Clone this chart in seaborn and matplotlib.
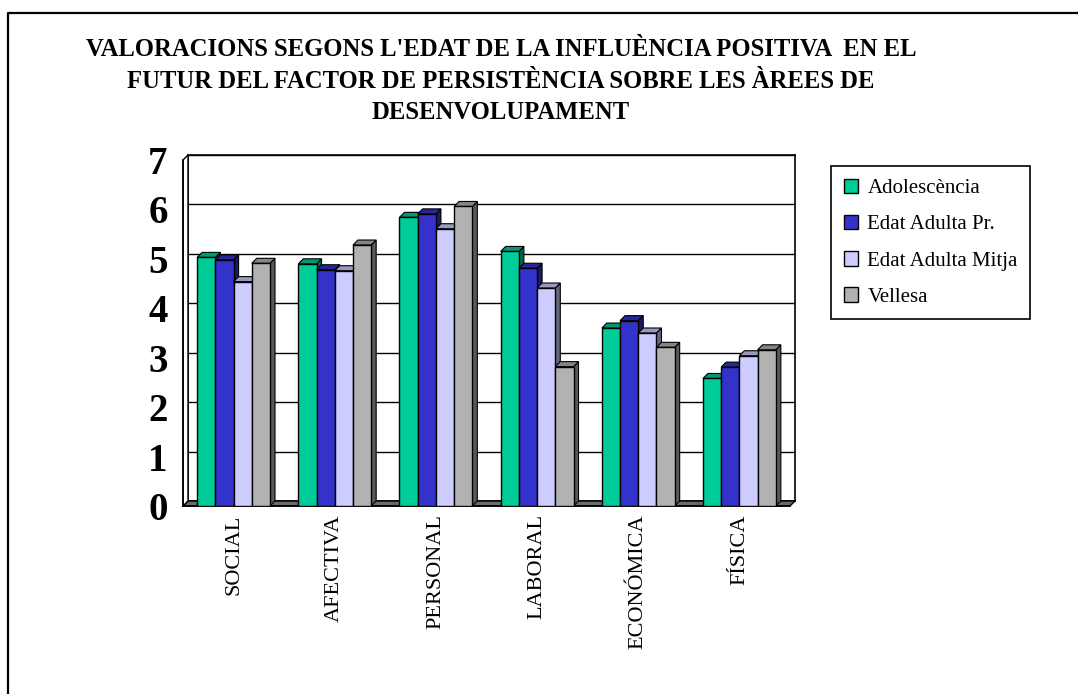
#%%                  Data                  ###

import numpy as np
import pandas as pd
import seaborn as sns
import matplotlib.pyplot as plt
from matplotlib.patches import Polygon
from matplotlib.lines import Line2D
from matplotlib.colors import to_rgb

areas = ["SOCIAL", "AFECTIVA", "PERSONAL", "LABORAL", "ECONÓMICA", "FÍSICA"]
ages = ["Adolescència", "Edat Adulta Pr.", "Edat Adulta Mitja", "Vellesa"]

adolescencia = [5.03, 4.90, 5.84, 5.15, 3.60, 2.58]
adulta_pr    = [4.98, 4.78, 5.91, 4.81, 3.75, 2.81]
adulta_mitja = [4.54, 4.76, 5.61, 4.41, 3.50, 3.04]
vellesa      = [4.91, 5.28, 6.06, 2.82, 3.21, 3.16]

yticks = [0, 1, 2, 3, 4, 5, 6, 7]
colors = ["#00CC99", "#3333CC", "#CCCCFF", "#B2B2B2"]

title = ("VALORACIONS SEGONS L'EDAT DE LA INFLUÈNCIA POSITIVA  EN EL\n"
         "FUTUR DEL FACTOR DE PERSISTÈNCIA SOBRE LES ÀREES DE\n"
         "DESENVOLUPAMENT")

df = pd.DataFrame({
    "area": areas * 4,
    "age": np.repeat(ages, len(areas)),
    "value": adolescencia + adulta_pr + adulta_mitja + vellesa,
})

sns.set_style("white")
plt.rcParams["font.family"] = ["Liberation Serif", "DejaVu Serif"]
for key in ["text.color", "axes.labelcolor", "xtick.color", "ytick.color"]:
    plt.rcParams[key] = "black"

#%%                  Layout (pixels of the 1078x694 picture)                  ###

W, H = 1078, 694
left, right, top, bottom = 183, 790, 160, 506
d = 5  # depth of the fake 3D effect, px

fig = plt.figure(figsize=(W / 100, H / 100), dpi=100)
pos = [left / W, 1 - bottom / H, (right - left) / W, (bottom - top) / H]

# back wall with the gridlines, shifted up/right
back = fig.add_axes([pos[0] + d / W, pos[1] + d / H, pos[2], pos[3]], zorder=0)
back.set_xlim(-0.5, len(areas) - 0.5)
back.set_ylim(0, 7)
back.set_yticks(yticks)
back.set_xticks([])
back.tick_params(left=False, labelleft=False, bottom=False, labelbottom=False)
back.grid(axis="y", color="black", lw=1)
for s in back.spines.values():
    s.set_color("black")
    s.set_linewidth(1.2)

ax = fig.add_axes(pos, zorder=1)
ax.set_facecolor("none")
sns.barplot(data=df, x="area", y="value", hue="age", palette=colors,
            width=0.72, edgecolor="black", linewidth=1, saturation=1,
            errorbar=None, ax=ax)

ax.set_xlim(-0.5, len(areas) - 0.5)
ax.set_ylim(0, 7)
ax.set(xlabel="", ylabel="")

# ticks at category boundaries, labels at centres
ax.set_xticks(np.arange(-0.5, len(areas), 1))
ax.set_xticklabels([])
ax.set_xticks(range(len(areas)), minor=True)
ax.set_xticklabels(areas, minor=True, rotation=90, fontsize=16)
ax.tick_params(axis="x", which="major", length=7, width=1, color="black", direction="out")
ax.tick_params(axis="x", which="minor", length=0, pad=6)
ax.set_yticks(yticks)
ax.set_yticklabels([str(t) for t in yticks], fontsize=28, fontweight="bold")
ax.tick_params(axis="y", length=5, width=1, color="black", direction="out", pad=6)

ax.spines["top"].set_visible(False)
ax.spines["right"].set_visible(False)
for s in ["left", "bottom"]:
    ax.spines[s].set_color("black")
    ax.spines[s].set_linewidth(1.2)

#%%                  3D faces built from the bar patches                  ###

to_disp = ax.transData.transform
to_data = ax.transData.inverted().transform

def shade(c, f):
    r, g, b = to_rgb(c)
    return (r * f, g * f, b * f)

# floor and left wall
(fx0, fy0), (fx1, fy1) = to_disp([(-0.5, 0), (len(areas) - 0.5, 7)])
floor = [(fx0, fy0), (fx1, fy0), (fx1 + d, fy0 + d), (fx0 + d, fy0 + d)]
wall = [(fx0, fy0), (fx0, fy1), (fx0 + d, fy1 + d), (fx0 + d, fy0 + d)]
ax.add_patch(Polygon(to_data(floor), fc="#6A6A6A", ec="black", lw=1, zorder=2, clip_on=False))
ax.add_patch(Polygon(to_data(wall), fc="white", ec="black", lw=1, zorder=2, clip_on=False))

bars = sorted(list(ax.patches)[:len(df)], key=lambda p: p.get_x())
for k, p in enumerate(bars):
    x0, w, h = p.get_x(), p.get_width(), p.get_height()
    (a0, b0), (a1, b1) = to_disp([(x0, 0), (x0 + w, h)])
    c = p.get_facecolor()
    side = [(a1, b0), (a1, b1), (a1 + d, b1 + d), (a1 + d, b0 + d)]
    topf = [(a0, b1), (a1, b1), (a1 + d, b1 + d), (a0 + d, b1 + d)]
    ax.add_patch(Polygon(to_data(side), fc=shade(c, 0.5), ec="black", lw=0.8,
                         zorder=3 + 2 * k, clip_on=False))
    ax.add_patch(Polygon(to_data(topf), fc=shade(c, 0.75), ec="black", lw=0.8,
                         zorder=3 + 2 * k, clip_on=False))
    p.set_zorder(4 + 2 * k)

#%%                  Legend, title, outer frame                  ###

handles, labels = ax.get_legend_handles_labels()
leg = ax.legend(handles, labels, loc="upper left", bbox_to_anchor=(831 / W, 1 - 166 / H),
                bbox_transform=fig.transFigure, borderaxespad=0, fontsize=15,
                handlelength=0.7, handleheight=0.7, handletextpad=0.45,
                borderpad=0.6, labelspacing=0.8, frameon=True, fancybox=False,
                framealpha=1, edgecolor="black")
leg.get_frame().set_linewidth(1.2)

fig.text(501 / W, 1 - 81 / H, title, ha="center", va="center", fontsize=17.7,
         fontweight="bold", linespacing=1.45)

fig.add_artist(Line2D([8 / W, 8 / W, 1], [0, 1 - 13 / H, 1 - 13 / H],
                      transform=fig.transFigure, color="black", lw=1.6))

fig.savefig("out.png", dpi=100)
